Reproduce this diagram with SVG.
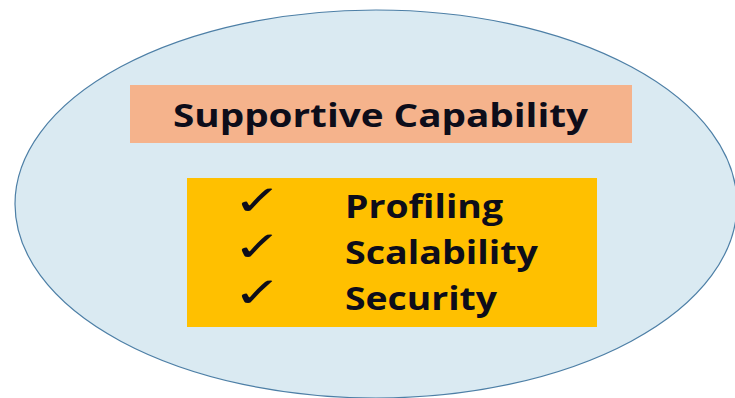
<svg xmlns="http://www.w3.org/2000/svg" width="735" height="398" viewBox="0 0 735 398">
  <style>
    .title { font-family: "Open Sans", "Liberation Sans", sans-serif; font-weight: bold; font-size: 33px; fill: #0d0d1a; }
    .item { font-family: "Open Sans", "Liberation Sans", sans-serif; font-weight: bold; font-size: 32px; fill: #0d0d1a; }
    .tick { font-family: "DejaVu Sans", sans-serif; font-size: 42px; font-weight: bold; fill: #0d0d1a; }
  </style>
  <rect width="735" height="398" fill="#ffffff"/>
  <g id="boundary">
    <ellipse cx="376" cy="204" rx="361" ry="194" fill="#daeaf2" stroke="#4d7fa6" stroke-width="1.2"/>
  </g>
  <g id="heading">
    <rect x="130" y="85" width="502" height="58" fill="#f5b38c"/>
    <text class="title" x="173" y="127" textLength="415" lengthAdjust="spacingAndGlyphs">Supportive Capability</text>
  </g>
  <g id="capabilities">
    <rect x="187" y="178" width="410" height="149" fill="#ffc000"/>
    <!-- tick bullets, widened horizontally -->
    <text class="tick" transform="translate(233 215) scale(1.4 1)">✓</text>
    <text class="tick" transform="translate(233 261) scale(1.4 1)">✓</text>
    <text class="tick" transform="translate(233 307) scale(1.4 1)">✓</text>
    <text class="item" x="345" y="218" textLength="158" lengthAdjust="spacingAndGlyphs">Profiling</text>
    <text class="item" x="345" y="264" textLength="193" lengthAdjust="spacingAndGlyphs">Scalability</text>
    <text class="item" x="345" y="310" textLength="152" lengthAdjust="spacingAndGlyphs">Security</text>
  </g>
</svg>
